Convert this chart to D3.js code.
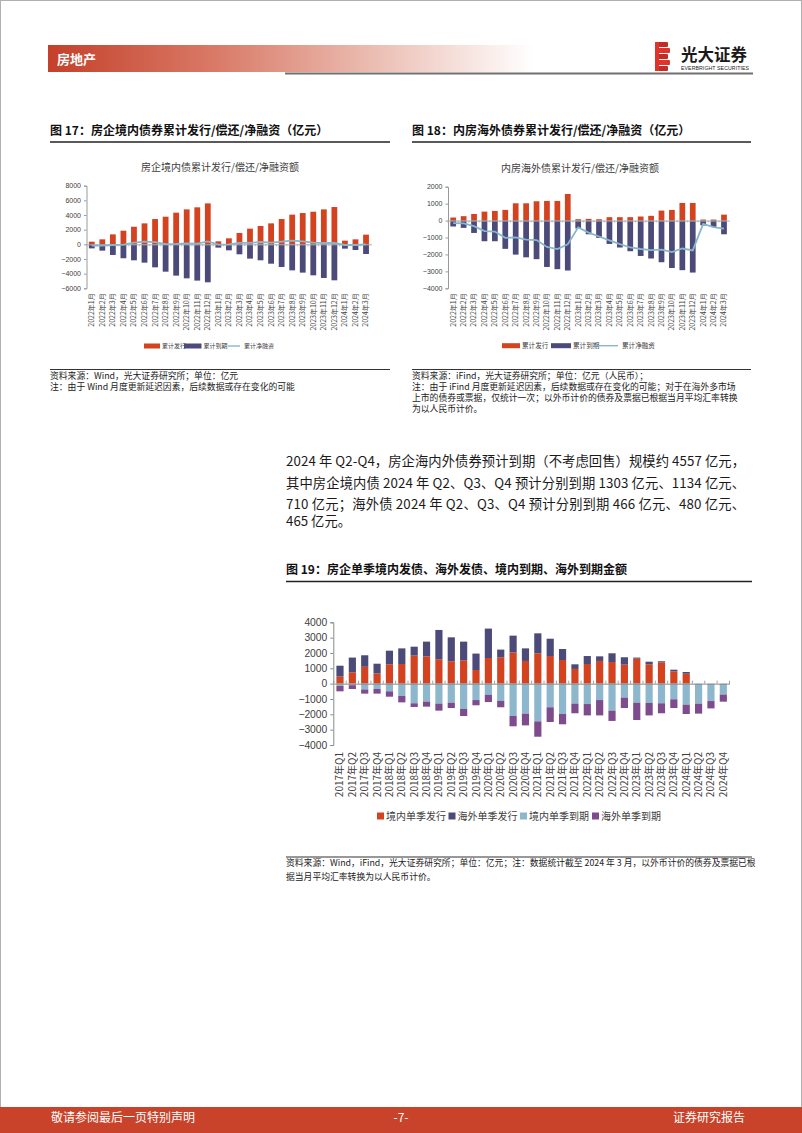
<!DOCTYPE html>
<html>
<head>
<meta charset="utf-8">
<script src="https://cdn.jsdelivr.net/npm/d3@7"></script>
<style>
  body { margin: 0; background: #fff; }
  svg { display: block; font-family: "Noto Sans CJK SC", "Noto Sans", sans-serif; }
  .num { font-family: "Liberation Sans", Arial, sans-serif; }
</style>
</head>
<body>
<svg id="page" width="802" height="1133"></svg>
<script>
// ---- data ----
const months = ["2022年1月","2022年2月","2022年3月","2022年4月","2022年5月","2022年6月","2022年7月","2022年8月","2022年9月","2022年10月","2022年11月","2022年12月",
  "2023年1月","2023年2月","2023年3月","2023年4月","2023年5月","2023年6月","2023年7月","2023年8月","2023年9月","2023年10月","2023年11月","2023年12月",
  "2024年1月","2024年2月","2024年3月"];

// fig 17: domestic bonds, cumulative (亿元)
const domCumIssue  = [360, 680, 1360, 1860, 2400, 2860, 3450, 3770, 4320, 4770, 5050, 5590,
  410, 820, 1550, 2140, 2500, 2860, 3450, 4050, 4270, 4450, 4770, 5090, 500, 680, 1320];
const domCumMature = [-550, -860, -1450, -1900, -2180, -2500, -3140, -3730, -4270, -4640, -4950, -5180,
  -450, -820, -1360, -1950, -2180, -2640, -3090, -3550, -3860, -4230, -4590, -4910, -590, -770, -1320];
const domCumNet    = [-190, -180, -90, -40, 220, 360, 310, 40, 50, 130, 100, 410,
  -40, 0, 190, 190, 320, 220, 360, 500, 410, 220, 180, 180, -90, -90, 0];

// fig 18: overseas bonds, cumulative (亿元)
const ovsCumIssue  = [180, 260, 390, 530, 570, 630, 1020, 1020, 1140, 1160, 1160, 1570,
  80, 100, 80, 200, 200, 200, 240, 280, 590, 630, 1040, 1040, 60, 60, 350];
const ovsCumMature = [-350, -430, -730, -1220, -1220, -1670, -2010, -2170, -2280, -2740, -2870, -2950,
  -470, -810, -1020, -1380, -1590, -1810, -2090, -2240, -2460, -2800, -2930, -3070, -280, -370, -810];
const ovsCumNet    = [-150, -170, -330, -620, -650, -1020, -990, -1120, -1150, -1560, -1680, -1400,
  -400, -710, -940, -1170, -1390, -1590, -1680, -1750, -1720, -1860, -1650, -1760, -200, -390, -470];

const ticks17 = [-6000, -4000, -2000, 0, 2000, 4000, 6000, 8000];
const ticks18 = [-4000, -3000, -2000, -1000, 0, 1000, 2000];

// fig 19: quarterly (亿元)
const quarters = ["2017年Q1","2017年Q2","2017年Q3","2017年Q4","2018年Q1","2018年Q2","2018年Q3","2018年Q4",
  "2019年Q1","2019年Q2","2019年Q3","2019年Q4","2020年Q1","2020年Q2","2020年Q3","2020年Q4",
  "2021年Q1","2021年Q2","2021年Q3","2021年Q4","2022年Q1","2022年Q2","2022年Q3","2022年Q4",
  "2023年Q1","2023年Q2","2023年Q3","2023年Q4","2024年Q1","2024年Q2","2024年Q3","2024年Q4"];
const qDomIssue  = [460, 740, 1100, 670, 1260, 1280, 1830, 1780, 1590, 1460, 1520, 890, 1670, 1720, 2040, 1480,
  1980, 1800, 1540, 960, 1280, 1480, 1410, 1240, 1630, 1260, 1390, 800, 650, 0, 0, 0];
const qOvsIssue  = [710, 960, 750, 630, 890, 1020, 580, 960, 1910, 1560, 1220, 1070, 1920, 500, 1090, 820,
  1300, 1130, 720, 300, 520, 300, 570, 480, 70, 170, 70, 110, 110, 0, 0, 0];
const qDomMature = [-150, -100, -380, -350, -500, -800, -1280, -1170, -1300, -1240, -1650, -1070, -720, -1130, -2110, -1960,
  -2460, -1540, -1980, -1300, -1330, -1070, -1760, -910, -1240, -1260, -1280, -1020, -1370, -1303, -1134, -710];
const qOvsMature = [-350, -250, -270, -300, -350, -420, -240, -330, -460, -350, -460, -340, -480, -410, -670, -760,
  -1000, -960, -670, -630, -740, -1000, -670, -680, -1130, -810, -650, -570, -610, -650, -480, -465];
const ticks19 = [-4000, -3000, -2000, -1000, 0, 1000, 2000, 3000, 4000];

// ---- colours ----
const RED = "#D4431F", NAVY = "#4B4A78", LBLUE = "#8CB7CC", PURPLE = "#7E4B8D", LINE = "#88B6CC";

const svg = d3.select("#page");

// ---- page frame, header, footer ----
svg.append("rect").attr("x", 0.5).attr("y", 0.5).attr("width", 801).attr("height", 1132)
  .attr("fill", "none").attr("stroke", "#b0b0b0");

const defs = svg.append("defs");
const grad = defs.append("linearGradient").attr("id", "hdr");
grad.append("stop").attr("offset", "0%").attr("stop-color", "#C4402A");
grad.append("stop").attr("offset", "35%").attr("stop-color", "#D97B68");
grad.append("stop").attr("offset", "70%").attr("stop-color", "#EDC3B9");
grad.append("stop").attr("offset", "100%").attr("stop-color", "#ffffff");
svg.append("rect").attr("x", 48).attr("y", 45).attr("width", 485).attr("height", 27).attr("fill", "url(#hdr)");
svg.append("text").attr("x", 57).attr("y", 63.5).attr("fill", "#fff").attr("font-size", 13)
  .attr("font-weight", "bold").text("房地产");
svg.append("line").attr("x1", 285).attr("x2", 753).attr("y1", 73.5).attr("y2", 73.5)
  .attr("stroke", "#707070").attr("stroke-width", 2);

// logo
const logo = svg.append("g").attr("transform", "translate(655,42)");
[0, 6, 12, 18, 24].forEach((dy, i) => {
  logo.append("rect").attr("x", 0).attr("y", dy).attr("width", i % 2 ? 15 : 13).attr("height", 5)
    .attr("fill", i % 2 ? "#E0332B" : "#C62A24").attr("rx", 1);
});
logo.append("rect").attr("x", 0).attr("y", 0).attr("width", 4).attr("height", 29).attr("fill", "#E0332B");
svg.append("text").attr("x", 681).attr("y", 61).attr("font-size", 16.5).attr("font-weight", "bold")
  .attr("fill", "#1a1a1a").text("光大证券");
svg.append("text").attr("class", "num").attr("x", 681).attr("y", 70).attr("font-size", 5.2)
  .attr("fill", "#222").attr("textLength", 68).text("EVERBRIGHT SECURITIES");

svg.append("rect").attr("x", 0).attr("y", 1107).attr("width", 802).attr("height", 26).attr("fill", "#C8432A");
svg.append("text").attr("x", 51).attr("y", 1122).attr("font-size", 12).attr("fill", "#fff").text("敬请参阅最后一页特别声明");
svg.append("text").attr("x", 401).attr("y", 1122).attr("font-size", 12).attr("fill", "#fff")
  .attr("text-anchor", "middle").text("-7-");
svg.append("text").attr("x", 745).attr("y", 1122).attr("font-size", 12).attr("fill", "#fff")
  .attr("text-anchor", "end").text("证券研究报告");

// ---- figure titles & notes ----
function figTitle(x, y, x2, txt) {
  svg.append("text").attr("x", x).attr("y", y).attr("font-size", 12).attr("font-weight", "bold")
    .attr("fill", "#111").text(txt);
  svg.append("line").attr("x1", x).attr("x2", x2).attr("y1", y + 7.5).attr("y2", y + 7.5)
    .attr("stroke", "#222").attr("stroke-width", 1.3);
}
function notes(x, y0, x2, lines, step) {
  svg.append("line").attr("x1", x).attr("x2", x2).attr("y1", y0 - 9).attr("y2", y0 - 9)
    .attr("stroke", "#333").attr("stroke-width", 1.2);
  lines.forEach((t, i) => {
    svg.append("text").attr("x", x).attr("y", y0 + i * step).attr("font-size", 8.8)
      .attr("fill", "#222").text(t);
  });
}

figTitle(50, 134.5, 390, "图 17：房企境内债券累计发行/偿还/净融资（亿元）");
figTitle(412, 134.5, 751, "图 18：内房海外债券累计发行/偿还/净融资（亿元）");
notes(50, 378.5, 390, ["资料来源：Wind，光大证券研究所；单位：亿元",
  "注：由于 Wind 月度更新延迟因素，后续数据或存在变化的可能"], 11.3);
notes(412, 378.5, 751, ["资料来源：iFind，光大证券研究所；单位：亿元（人民币）；",
  "注：由于 iFind 月度更新延迟因素，后续数据或存在变化的可能；对于在海外多市场",
  "上市的债券或票据，仅统计一次；以外币计价的债券及票据已根据当月平均汇率转换",
  "为以人民币计价。"], 11.3);

// ---- paragraph ----
const para = ["2024 年 Q2-Q4，房企海内外债券预计到期（不考虑回售）规模约 4557 亿元，",
  "其中房企境内债 2024 年 Q2、Q3、Q4 预计分别到期 1303 亿元、1134 亿元、",
  "710 亿元；海外债 2024 年 Q2、Q3、Q4 预计分别到期 466 亿元、480 亿元、",
  "465 亿元。"];
const paraY = [466, 487.6, 509.2, 526];
para.forEach((t, i) => {
  const tx = svg.append("text").attr("x", 286).attr("y", paraY[i]).attr("font-size", 13.3)
    .attr("fill", "#1a1a1a").text(t);
  if (i < 3) tx.attr("textLength", 459).attr("lengthAdjust", "spacing");
});

// ---- cumulative charts (fig 17, 18) ----
function cumChart(o) {
  const g = svg.append("g");
  const x = d3.scaleBand().domain(months).range([o.x0, o.x1]).paddingInner(0.45).paddingOuter(0.225);
  const y = d3.scaleLinear().domain(o.domain).range([o.yb, o.yt]);

  g.append("text").attr("x", o.cx).attr("y", o.yt - 15).attr("text-anchor", "middle")
    .attr("font-size", 10).attr("fill", "#404040").text(o.title);

  // y axis
  const ya = g.append("g").attr("transform", `translate(${o.x0},0)`)
    .call(d3.axisLeft(y).tickValues(o.ticks).tickSize(2.5).tickPadding(3).tickFormat(d3.format("d")));
  ya.select(".domain").attr("stroke", "#9a9a9a");
  ya.selectAll(".tick line").attr("stroke", "#9a9a9a");
  ya.selectAll(".tick text").attr("class", "num").attr("font-size", 7).attr("fill", "#404040");

  // bars
  g.selectAll(".iss").data(o.issue).join("rect")
    .attr("x", (d, i) => x(months[i])).attr("width", x.bandwidth())
    .attr("y", d => y(Math.max(0, d))).attr("height", d => Math.abs(y(d) - y(0)))
    .attr("fill", RED);
  g.selectAll(".mat").data(o.mature).join("rect")
    .attr("x", (d, i) => x(months[i])).attr("width", x.bandwidth())
    .attr("y", d => y(Math.max(0, d))).attr("height", d => Math.abs(y(d) - y(0)))
    .attr("fill", NAVY);

  // zero axis with ticks
  const xa = g.append("g").attr("transform", `translate(0,${y(0)})`)
    .call(d3.axisBottom(x).tickValues([]).tickSizeOuter(0));
  xa.select(".domain").attr("stroke", "#a8a8a8");
  months.forEach((m, i) => {
    const bx = x(m) - x.step() * x.paddingInner() / 2;
    g.append("line").attr("x1", bx).attr("x2", bx).attr("y1", y(0)).attr("y2", y(0) + 2)
      .attr("stroke", "#a8a8a8").attr("stroke-width", 0.7);
  });

  // net line
  const line = d3.line().x((d, i) => x(months[i]) + x.bandwidth() / 2).y(d => y(d));
  g.append("path").datum(o.net).attr("d", line).attr("fill", "none")
    .attr("stroke", LINE).attr("stroke-width", 1.8);

  // month labels at bottom
  g.selectAll(".ml").data(months).join("text")
    .attr("transform", d => `translate(${x(d) + x.bandwidth() / 2},${o.yb + 5}) rotate(-90)`)
    .attr("text-anchor", "end").attr("dy", "0.35em").attr("font-size", 7).attr("fill", "#404040")
    .text(d => d);

  // legend
  const lg = g.append("g").attr("font-size", o.lfs).attr("fill", "#404040");
  const ly = o.ly;
  lg.append("rect").attr("x", o.lx[0]).attr("y", ly - 2.5).attr("width", o.lx[1] - o.lx[0]).attr("height", 5).attr("fill", RED);
  lg.append("text").attr("x", o.lx[1] + 2).attr("y", ly).attr("dy", "0.35em").text("累计发行");
  lg.append("rect").attr("x", o.lx[2]).attr("y", ly - 2.5).attr("width", o.lx[3] - o.lx[2]).attr("height", 5).attr("fill", NAVY);
  lg.append("text").attr("x", o.lx[3] + 2).attr("y", ly).attr("dy", "0.35em").text("累计到期");
  lg.append("line").attr("x1", o.lx[4]).attr("x2", o.lx[5]).attr("y1", ly).attr("y2", ly)
    .attr("stroke", LINE).attr("stroke-width", 1.4);
  lg.append("text").attr("x", o.lx[5] + 4).attr("y", ly).attr("dy", "0.35em").text("累计净融资");
}

cumChart({
  title: "房企境内债累计发行/偿还/净融资额", cx: 220,
  x0: 86.5, x1: 371.3, yt: 185.7, yb: 288.3, domain: [-6000, 8000], ticks: ticks17,
  issue: domCumIssue, mature: domCumMature, net: domCumNet,
  ly: 346, lfs: 6, lx: [144, 160, 184, 201.5, 228, 240]
});
cumChart({
  title: "内房海外债累计发行/偿还/净融资额", cx: 580,
  x0: 448, x1: 729.2, yt: 186.7, yb: 288.3, domain: [-4000, 2000], ticks: ticks18,
  issue: ovsCumIssue, mature: ovsCumMature, net: ovsCumNet,
  ly: 345.7, lfs: 6.6, lx: [502, 520, 551, 571, 594, 618]
});

// ---- fig 19 ----
figTitle(286, 574, 752, "图 19：房企单季境内发债、海外发债、境内到期、海外到期金额");

const qRows = quarters.map((q, i) => ({
  q, domIssue: qDomIssue[i], ovsIssue: qOvsIssue[i], domMat: qDomMature[i], ovsMat: qOvsMature[i]
}));
const qKeys = ["domIssue", "ovsIssue", "domMat", "ovsMat"];
const qColors = { domIssue: RED, ovsIssue: NAVY, domMat: LBLUE, ovsMat: PURPLE };
const qNames = { domIssue: "境内单季发行", ovsIssue: "海外单季发行", domMat: "境内单季到期", ovsMat: "海外单季到期" };
const stacked = d3.stack().keys(qKeys).offset(d3.stackOffsetDiverging)(qRows);

const x19 = d3.scaleBand().domain(quarters).range([333.8, 729.5]).paddingInner(0.42).paddingOuter(0.21);
const y19 = d3.scaleLinear().domain([-4000, 4000]).range([745, 622.3]);
const g19 = svg.append("g");

const ya19 = g19.append("g").attr("transform", "translate(333.3,0)")
  .call(d3.axisLeft(y19).tickValues(ticks19).tickSize(3).tickPadding(3).tickFormat(d3.format("d")));
ya19.select(".domain").attr("stroke", "#8a8a8a");
ya19.selectAll(".tick line").attr("stroke", "#8a8a8a");
ya19.selectAll(".tick text").attr("class", "num").attr("font-size", 10.3).attr("fill", "#404040");

g19.selectAll(".layer").data(stacked).join("g").attr("fill", d => qColors[d.key])
  .selectAll("rect").data(d => d).join("rect")
  .attr("x", d => x19(d.data.q)).attr("width", x19.bandwidth())
  .attr("y", d => y19(Math.max(d[0], d[1]))).attr("height", d => Math.abs(y19(d[0]) - y19(d[1])));

const xa19 = g19.append("g").attr("transform", `translate(0,${y19(0)})`)
  .call(d3.axisBottom(x19).tickValues([]).tickSizeOuter(0));
xa19.select(".domain").attr("stroke", "#8a8a8a");
quarters.concat(["end"]).forEach((q, i) => {
  const bx = 333.8 + i * x19.step();
  g19.append("line").attr("x1", bx).attr("x2", bx).attr("y1", y19(0)).attr("y2", y19(0) - 3)
    .attr("stroke", "#8a8a8a").attr("stroke-width", 0.8);
});

g19.selectAll(".ql").data(quarters).join("text")
  .attr("transform", d => `translate(${x19(d) + x19.bandwidth() / 2},752) rotate(-90)`)
  .attr("text-anchor", "end").attr("dy", "0.35em").attr("font-size", 10).attr("fill", "#404040")
  .text(d => d);

const lgx = [377, 448.5, 520, 592];
qKeys.forEach((k, i) => {
  g19.append("rect").attr("x", lgx[i]).attr("y", 812.5).attr("width", 7).attr("height", 7).attr("fill", qColors[k]);
  g19.append("text").attr("x", lgx[i] + 9).attr("y", 816).attr("dy", "0.35em").attr("font-size", 10)
    .attr("fill", "#404040").text(qNames[k]);
});

notes(286, 866, 752, ["资料来源：Wind，iFind，光大证券研究所；单位：亿元；注：数据统计截至 2024 年 3 月，以外币计价的债券及票据已根",
  "据当月平均汇率转换为以人民币计价。"], 13.5);
</script>
</body>
</html>
